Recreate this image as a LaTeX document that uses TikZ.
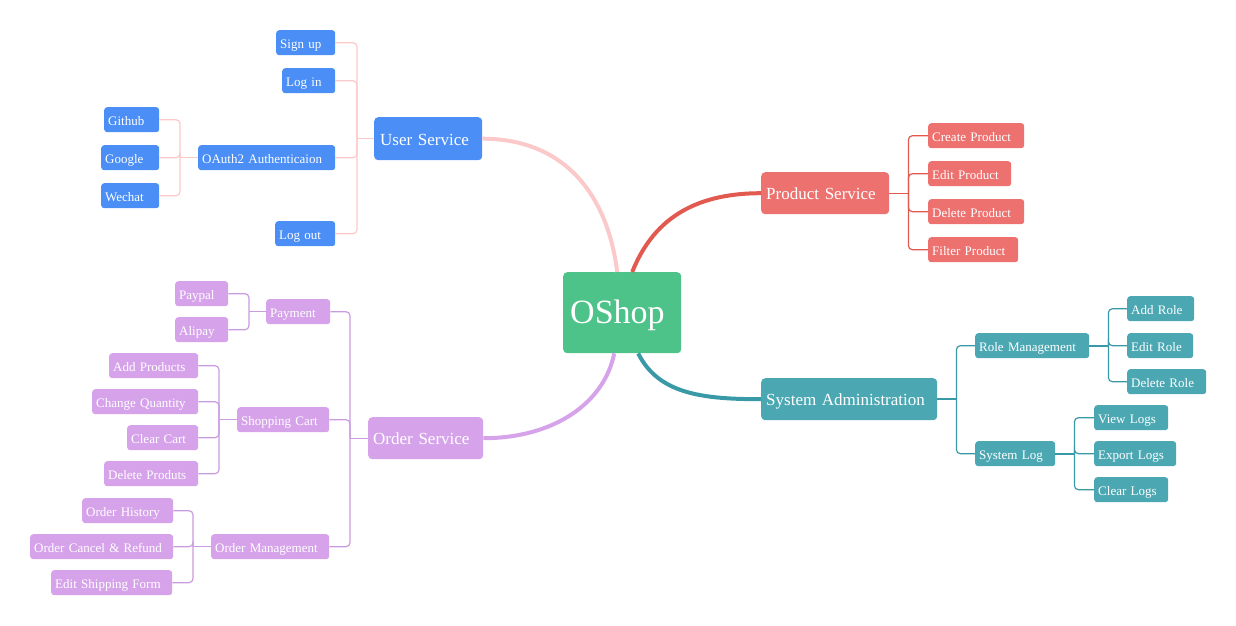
\documentclass[tikz,border=0pt]{standalone}
\usepackage{fontspec}
\setmainfont{Liberation Serif}
\usepackage{tikz}
\usetikzlibrary{positioning,calc}
\definecolor{userblue}{HTML}{4A8EF6}
\definecolor{userline}{HTML}{FBC9C9}
\definecolor{prodred}{HTML}{EC716F}
\definecolor{prodline}{HTML}{E1594F}
\definecolor{orderpurple}{HTML}{D6A3EB}
\definecolor{orderline}{HTML}{CB9BE0}
\definecolor{systeal}{HTML}{4BA8B3}
\definecolor{sysline}{HTML}{3A99A6}
\definecolor{rootgreen}{HTML}{4DC38A}
\tikzset{
  leafbox/.style={
    anchor=north west, rectangle, rounded corners=3pt,
    minimum height=25pt, inner xsep=4pt, inner ysep=0pt,
    text width=#1, align=left, text=white,
    text height=11.8pt, text depth=0.4pt,
    font=\fontsize{13}{15}\selectfont
  },
  topicbox/.style={
    anchor=north west, rectangle, rounded corners=4pt,
    minimum height=42pt, inner xsep=5pt, inner ysep=0pt,
    text width=#1, align=left, text=white,
    text height=13.5pt, text depth=0.5pt,
    font=\fontsize{17}{20}\selectfont
  },
  branch/.style={line width=1.2pt, rounded corners=4pt},
  maincurve/.style={line width=4pt}
}

\begin{document}
\begin{tikzpicture}[x=1pt, y=-1pt]
\useasboundingbox (0,0) rectangle (1236,625);

% root
\node[anchor=north west, rectangle, rounded corners=4pt, fill=rootgreen, text=white,
  minimum height=81pt, inner xsep=7pt, inner ysep=0pt, text width=104pt, align=left,
  text height=21.5pt, text depth=0.5pt,
  font=\fontsize{34}{40}\selectfont] (oshop) at (563,272) {OShop};

% topics
\node[topicbox=96pt, inner xsep=6pt, minimum height=43pt, fill=userblue] (user) at (374,117) {User Service};
\node[topicbox=118pt, fill=prodred] (product) at (761,172) {Product Service};
\node[topicbox=105pt, fill=orderpurple] (order) at (368,417) {Order Service};
\node[topicbox=166pt, fill=systeal] (system) at (761,378) {System Administration};

% user service
\node[leafbox=51pt, fill=userblue] (signup) at (276,30) {Sign up};
\node[leafbox=45pt, fill=userblue] (login) at (282,68) {Log in};
\node[leafbox=129pt, fill=userblue] (oauth) at (198,145) {OAuth2 Authenticaion};
\node[leafbox=52pt, fill=userblue] (logout) at (275,221) {Log out};
\node[leafbox=47pt, fill=userblue] (github) at (104,107) {Github};
\node[leafbox=50pt, fill=userblue] (google) at (101,145) {Google};
\node[leafbox=50pt, fill=userblue] (wechat) at (101,183) {Wechat};

% product service
\node[leafbox=88pt, fill=prodred] (createprod) at (928,123) {Create Product};
\node[leafbox=75pt, fill=prodred] (editprod) at (928,161) {Edit Product};
\node[leafbox=88pt, fill=prodred] (deleteprod) at (928,199) {Delete Product};
\node[leafbox=82pt, fill=prodred] (filterprod) at (928,237) {Filter Product};

% system administration
\node[leafbox=106pt, fill=systeal] (rolemgmt) at (975,333) {Role Management};
\node[leafbox=72pt, fill=systeal] (syslog) at (975,441) {System Log};
\node[leafbox=59pt, fill=systeal] (addrole) at (1127,296) {Add Role};
\node[leafbox=58pt, fill=systeal] (editrole) at (1127,333) {Edit Role};
\node[leafbox=71pt, fill=systeal] (deleterole) at (1127,369) {Delete Role};
\node[leafbox=66pt, fill=systeal] (viewlogs) at (1094,405) {View Logs};
\node[leafbox=74pt, fill=systeal] (exportlogs) at (1094,441) {Export Logs};
\node[leafbox=66pt, fill=systeal] (clearlogs) at (1094,477) {Clear Logs};

% order service
\node[leafbox=56pt, fill=orderpurple] (payment) at (266,299) {Payment};
\node[leafbox=84pt, fill=orderpurple] (cart) at (237,407) {Shopping Cart};
\node[leafbox=110pt, fill=orderpurple] (ordermgmt) at (211,534) {Order Management};
\node[leafbox=45pt, fill=orderpurple] (paypal) at (175,281) {Paypal};
\node[leafbox=45pt, fill=orderpurple] (alipay) at (175,317) {Alipay};
\node[leafbox=81pt, fill=orderpurple] (addprods) at (109,353) {Add Products};
\node[leafbox=98pt, fill=orderpurple] (changeqty) at (92,389) {Change Quantity};
\node[leafbox=63pt, fill=orderpurple] (clearcart) at (127,425) {Clear Cart};
\node[leafbox=86pt, fill=orderpurple] (deleteprods) at (104,461) {Delete Produts};
\node[leafbox=83pt, fill=orderpurple] (history) at (82,498) {Order History};
\node[leafbox=135pt, fill=orderpurple] (refund) at (30,534) {Order Cancel \& Refund};
\node[leafbox=113pt, fill=orderpurple] (shipping) at (51,570) {Edit Shipping Form};

% main curves
\draw[maincurve, draw=userline] ([xshift=-5pt]oshop.north) .. controls +(-10,-80) and +(80,0) .. (user.east);
\draw[maincurve, draw=prodline] ([xshift=10pt]oshop.north) .. controls +(20,-50) and +(-70,0) .. (product.west);
\draw[maincurve, draw=orderpurple] ([xshift=-8pt]oshop.south) .. controls +(-10,50) and +(70,0) .. (order.east);
\draw[maincurve, draw=sysline] ([xshift=16pt]oshop.south) .. controls +(20,40) and +(-60,0) .. (system.west);

% forks
\draw[branch, draw=userline] (user.west) -- ++(-17,0) coordinate (userfork);
\draw[branch, draw=userline] (oauth.west) -- ++(-18,0) coordinate (oauthfork);
\draw[branch, draw=prodline] (product.east) -- ++(19,0) coordinate (prodfork);
\draw[branch, draw=sysline, line width=1.8pt] (system.east) -- ++(19,0) coordinate (sysfork);
\draw[branch, draw=sysline, line width=1.8pt] (rolemgmt.east) -- ++(19,0) coordinate (rolefork);
\draw[branch, draw=sysline, line width=1.8pt] (syslog.east) -- ++(19,0) coordinate (logfork);
\draw[branch, draw=orderline] (order.west) -- ++(-18,0) coordinate (orderfork);
\draw[branch, draw=orderline] (payment.west) -- ++(-17,0) coordinate (payfork);
\draw[branch, draw=orderline] (cart.west) -- ++(-18,0) coordinate (cartfork);
\draw[branch, draw=orderline] (ordermgmt.west) -- ++(-18,0) coordinate (mgmtfork);

% branches
\foreach \c in {signup,login,oauth,logout}
  \draw[branch, draw=userline] (userfork) |- (\c.east);
\foreach \c in {github,google,wechat}
  \draw[branch, draw=userline] (oauthfork) |- (\c.east);
\foreach \c in {createprod,editprod,deleteprod,filterprod}
  \draw[branch, draw=prodline] (prodfork) |- (\c.west);
\foreach \c in {rolemgmt,syslog}
  \draw[branch, draw=sysline] (sysfork) |- (\c.west);
\foreach \c in {addrole,editrole,deleterole}
  \draw[branch, draw=sysline] (rolefork) |- (\c.west);
\foreach \c in {viewlogs,exportlogs,clearlogs}
  \draw[branch, draw=sysline] (logfork) |- (\c.west);
\foreach \c in {payment,cart,ordermgmt}
  \draw[branch, draw=orderline] (orderfork) |- (\c.east);
\foreach \c in {paypal,alipay}
  \draw[branch, draw=orderline] (payfork) |- (\c.east);
\foreach \c in {addprods,changeqty,clearcart,deleteprods}
  \draw[branch, draw=orderline] (cartfork) |- (\c.east);
\foreach \c in {history,refund,shipping}
  \draw[branch, draw=orderline] (mgmtfork) |- (\c.east);
\end{tikzpicture}
\end{document}
